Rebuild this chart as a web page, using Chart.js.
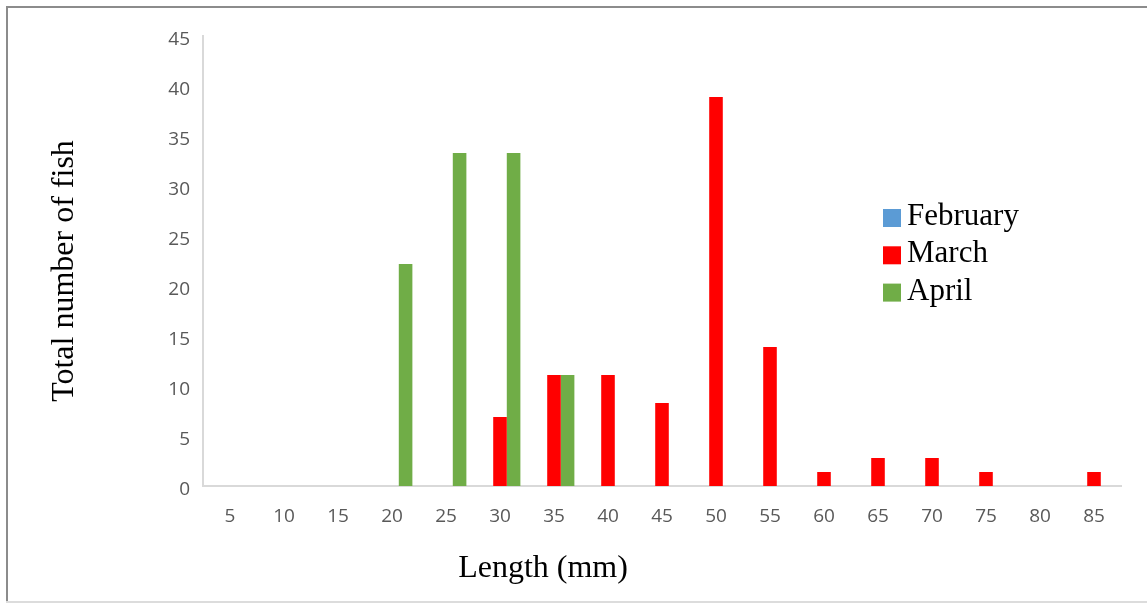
<!DOCTYPE html>
<html>
<head>
    <title>Fish length</title>
    <script src="https://cdn.jsdelivr.net/npm/chart.js"></script>
    <style>
        body { margin: 0; background: #fff; }
        canvas { display: block; }
    </style>
</head>
<body>
    <canvas id="fishChart" width="1147" height="603"></canvas>

    <script>
        const lengths = ['5', '10', '15', '20', '25', '30', '35', '40', '45', '50', '55', '60', '65', '70', '75', '80', '85'];
        const february = [0, 0, 0, 0, 0, 0, 0, 0, 0, 0, 0, 0, 0, 0, 0, 0, 0];
        const march = [0, 0, 0, 0, 0, 6.9, 11.1, 11.1, 8.3, 38.9, 13.9, 1.4, 2.8, 2.8, 1.4, 0, 1.4];
        const april = [0, 0, 0, 22.2, 33.3, 33.3, 11.1, 0, 0, 0, 0, 0, 0, 0, 0, 0, 0];
        const yTicks = [0, 5, 10, 15, 20, 25, 30, 35, 40, 45];

        const serif = '"Liberation Serif", "Times New Roman", serif';

        // legend and axis titles are placed by hand like in the original
        const extras = {
            id: 'extras',
            afterDraw(chart) {
                const ctx = chart.ctx;
                ctx.save();
                // frame
                ctx.fillStyle = '#8c8c8c';
                ctx.fillRect(6, 6, 1141, 2);
                ctx.fillRect(6, 6, 2, 597);
                ctx.fillStyle = '#dcdcdc';
                ctx.fillRect(6, 601, 1141, 2);

                ctx.fillStyle = '#000';
                ctx.font = '32px ' + serif;
                ctx.textAlign = 'center';
                ctx.textBaseline = 'middle';
                ctx.fillText('Length (mm)', 543, 569);

                ctx.save();
                ctx.translate(65, 271);
                ctx.rotate(-Math.PI / 2);
                ctx.fillText('Total number of fish', 0, 0);
                ctx.restore();

                ctx.font = '31px ' + serif;
                ctx.textAlign = 'left';
                chart.data.datasets.forEach((ds, i) => {
                    const cy = 218 + i * 37.3;
                    ctx.fillStyle = ds.backgroundColor;
                    ctx.fillRect(883, cy - 9, 18, 18);
                    ctx.fillStyle = '#000';
                    ctx.fillText(ds.label, 907, cy - 1);
                });
                ctx.restore();
            }
        };

        const ctx = document.getElementById('fishChart').getContext('2d');
        new Chart(ctx, {
            type: 'bar',
            data: {
                labels: lengths,
                datasets: [
                    { label: 'February', data: february, backgroundColor: '#5B9BD5' },
                    { label: 'March', data: march, backgroundColor: '#FF0000' },
                    { label: 'April', data: april, backgroundColor: '#70AD47' }
                ]
            },
            options: {
                responsive: false,
                animation: false,
                devicePixelRatio: 1,
                layout: { padding: { top: 36, right: 26, left: 0, bottom: 0 } },
                datasets: { bar: { barPercentage: 1, categoryPercentage: 0.755 } },
                plugins: {
                    legend: { display: false },
                    tooltip: { enabled: false }
                },
                scales: {
                    x: {
                        grid: { display: false, drawTicks: false },
                        border: { display: true, color: '#d9d9d9', width: 2 },
                        ticks: {
                            color: '#595959',
                            font: { family: '"Open Sans", sans-serif', size: 19 },
                            padding: 19,
                            maxRotation: 0
                        },
                        afterFit(scale) { scale.height = 117; }
                    },
                    y: {
                        min: 0,
                        max: 45,
                        afterBuildTicks(scale) { scale.ticks = yTicks.map(v => ({ value: v })); },
                        grid: { display: false, drawTicks: false },
                        border: { display: true, color: '#d9d9d9', width: 2 },
                        ticks: {
                            color: '#595959',
                            font: { family: '"Open Sans", sans-serif', size: 19 },
                            padding: 13,
                            labelOffset: 4
                        },
                        afterFit(scale) { scale.width = 203; }
                    }
                }
            },
            plugins: [extras]
        });
    </script>
</body>
</html>
